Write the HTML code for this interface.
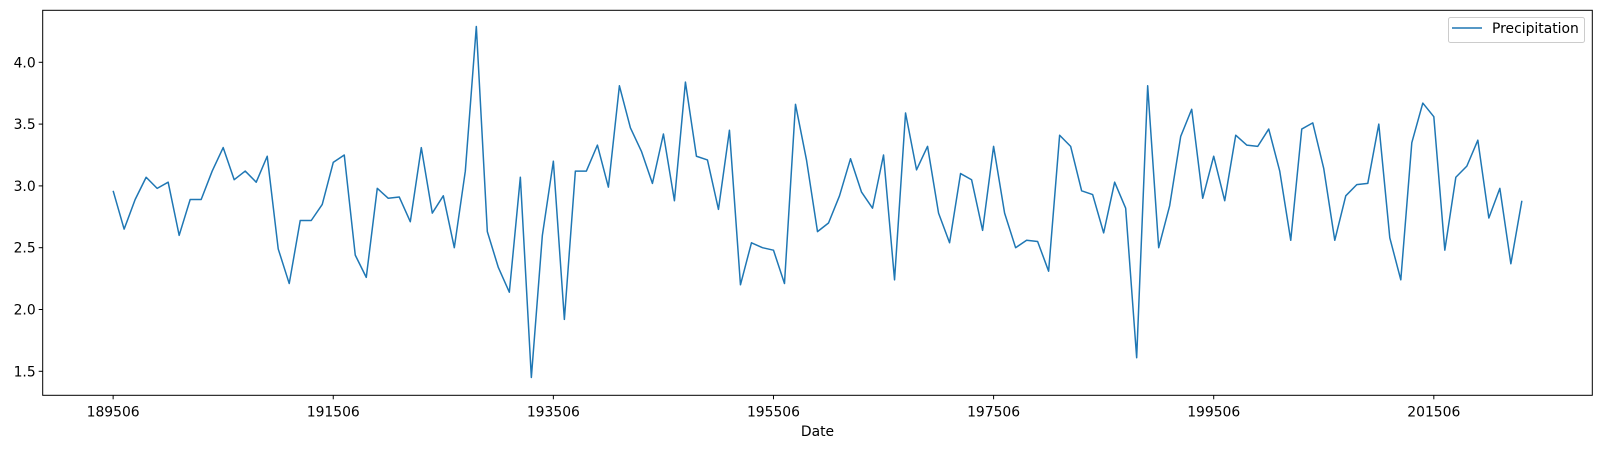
<!DOCTYPE html>
<html><head><meta charset="utf-8"><style>
body{margin:0;background:#fff;}
svg text{font-family:"DejaVu Sans","Liberation Sans",sans-serif;font-size:13.9px;fill:#000;}
</style></head><body>
<svg id="chart" width="1601" height="448" xmlns="http://www.w3.org/2000/svg">
<g id="axes"></g>
</svg>
<script>
const startYear = 1895;
const values = [2.96,2.65,2.89,3.07,2.98,3.03,2.60,2.89,2.89,3.12,3.31,3.05,3.12,3.03,3.24,2.49,2.21,2.72,2.72,2.85,
3.19,3.25,2.44,2.26,2.98,2.90,2.91,2.71,3.31,2.78,2.92,2.50,3.12,4.29,2.63,2.34,2.14,3.07,1.45,2.60,
3.20,1.92,3.12,3.12,3.33,2.99,3.81,3.47,3.28,3.02,3.42,2.88,3.84,3.24,3.21,2.81,3.45,2.20,2.54,2.50,
2.48,2.21,3.66,3.21,2.63,2.70,2.92,3.22,2.95,2.82,3.25,2.24,3.59,3.13,3.32,2.78,2.54,3.10,3.05,2.64,
3.32,2.78,2.50,2.56,2.55,2.31,3.41,3.32,2.96,2.93,2.62,3.03,2.82,1.61,3.81,2.50,2.84,3.40,3.62,2.90,
3.24,2.88,3.41,3.33,3.32,3.46,3.12,2.56,3.46,3.51,3.14,2.56,2.92,3.01,3.02,3.50,2.58,2.24,3.35,3.67,
3.56,2.48,3.07,3.16,3.37,2.74,2.98,2.37,2.88];
const yTicks = [1.5,2.0,2.5,3.0,3.5,4.0];
const xTickYears = [1895,1915,1935,1955,1975,1995,2015];

const L=42.7,R=1592.3,T=10.3,B=395.3;
const n=values.length;
const xmin=-0.05*(n-1), xmax=(n-1)*1.05;
function xs(i){return L+(i-xmin)/(xmax-xmin)*(R-L);}
function ys(v){return 62.3+(4.0-v)*123.6;}
const NS="http://www.w3.org/2000/svg";
const g=document.getElementById('axes');
function mk(tag,attrs){const e=document.createElementNS(NS,tag);for(const k in attrs)e.setAttribute(k,attrs[k]);g.appendChild(e);return e;}

yTicks.forEach(v=>{
  const y=ys(v);
  const t=mk('line',{x1:L-4,x2:L,y1:y,y2:y,stroke:'#000','stroke-width':1});
  
  
  const tx=mk('text',{x:L-7,y:y+5,'text-anchor':'end'});
  tx.textContent=v.toFixed(1);
  
  
});
xTickYears.forEach(yr=>{
  const x=xs(yr-startYear);
  const t=mk('line',{x1:x,x2:x,y1:B,y2:B+4,stroke:'#000','stroke-width':1});
  
  
  const tx=mk('text',{x:x,y:B+21,'text-anchor':'middle'});
  tx.textContent=yr+'06';
  
  
});
const pts=values.map((v,i)=>xs(i).toFixed(2)+','+ys(v).toFixed(2)).join(' ');
const line=mk('polyline',{points:pts,fill:'none',stroke:'#1f77b4','stroke-width':1.5,'stroke-linejoin':'round'});


const frame=mk('rect',{x:L,y:T,width:R-L,height:B-T,fill:'none',stroke:'#000','stroke-width':1});


const xl=mk('text',{x:(L+R)/2,y:436,'text-anchor':'middle'});
xl.textContent='Date';


const lb=mk('rect',{x:1448.5,y:17.5,width:136,height:25,rx:2,fill:'#fff',stroke:'#ccc','stroke-width':1});


const ll=mk('line',{x1:1452,x2:1482,y1:28,y2:28,stroke:'#1f77b4','stroke-width':1.5});


const lt=mk('text',{x:1492,y:33});
lt.textContent='Precipitation';


</script>
</body></html>
